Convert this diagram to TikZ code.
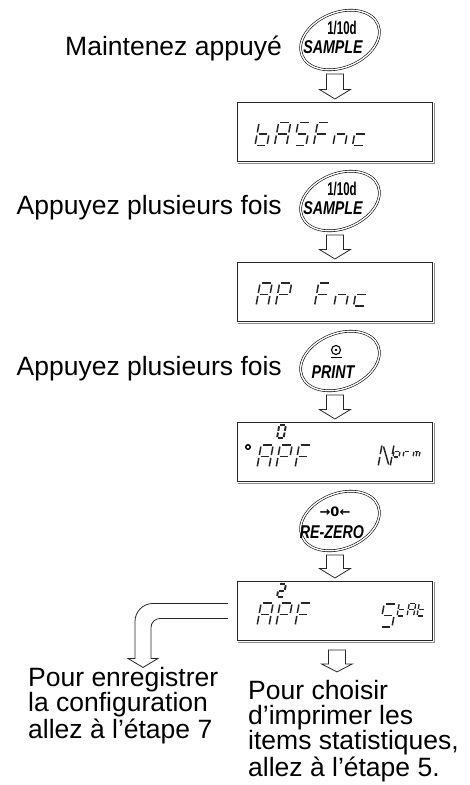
\documentclass[tikz,border=0pt]{standalone}
\usepackage{fontspec}
\setmainfont{Liberation Sans}
\newfontfamily\djv{DejaVu Sans}
\usetikzlibrary{shapes.geometric,calc}

% seven-segment pieces, local coordinates (origin bottom-left, y up)
\newcommand\dsega{\draw[seg] (1.6,23) -- (10.4,23);}
\newcommand\dsegb{\draw[seg] (12,21.4) -- (12,13);}
\newcommand\dsegc{\draw[seg] (12,10) -- (12,1.6);}
\newcommand\dsegd{\draw[seg] (1.6,0) -- (10.4,0);}
\newcommand\dsege{\draw[seg] (0,10) -- (0,1.6);}
\newcommand\dsegf{\draw[seg] (0,21.4) -- (0,13);}
\newcommand\dsegg{\draw[seg] (1.6,11.5) -- (10.4,11.5);}
\newcommand\dsegn{\draw[seg] (1.8,20.5) -- (10.2,2.5);}
\newcommand\dsegm{\draw[seg] (6,10) -- (6,1.6);}

\newcommand\glyph[5][]{%
  \begin{scope}[shift={(#2,#3)}, x={({#4*1pt},0pt)}, y={({0.18*#4*1pt},{#4*1pt})}, #1]
    \foreach \s in {#5} {\csname dseg\s\endcsname}
  \end{scope}}

\newcommand\blockarrow[2]{%
  \draw[blk] let \p1=(#2.north), \p2=(#1.center) in
    (\x1-8.5pt,\y2-34pt) -- (\x1-8.5pt,\y1+12.5pt) -- (\x1-15.5pt,\y1+12.5pt)
    -- (\x1,\y1+3pt) -- (\x1+15.5pt,\y1+12.5pt) -- (\x1+8.5pt,\y1+12.5pt)
    -- (\x1+8.5pt,\y2-34pt) -- cycle;}

\newcommand\dispshadow[1]{%
  \draw[black!45, line width=0.8pt]
    ([xshift=1pt,yshift=-1pt]#1.south west) -- ([xshift=1pt,yshift=-1pt]#1.south east)
    -- ([xshift=1pt,yshift=-1pt]#1.north east);}

\begin{document}
\begin{tikzpicture}[x=1pt,y=-1pt,
  lbl/.style={font=\fontsize{26.5}{24.3}\selectfont, inner sep=0pt},
  disp/.style={draw=black!85, line width=0.9pt, minimum width=195pt, minimum height=59pt, anchor=north west, inner sep=0pt},
  key/.style={ellipse, draw=black, double=white, double distance=1.4pt, line width=0.6pt, minimum width=82pt, minimum height=55pt, rotate=22, inner sep=0pt},
  blk/.style={draw=black!85, line width=0.8pt, fill=white, line join=miter},
  seg/.style={line width=1.5pt, black!85},
  ktop/.style={font=\bfseries\fontsize{18.5}{18.5}\selectfont, inner sep=0pt, anchor=base},
  kbot/.style={font=\bfseries\itshape\fontsize{18.5}{18.5}\selectfont, inner sep=0pt, anchor=base},
]
\useasboundingbox (0,0) rectangle (469,785);

% keys
\node[key] (k1) at (340,40) {};
\node[key] (k2) at (340,201) {};
\node[key] (k3) at (340,361) {};
\node[key] (k4) at (340,521) {};

\node[ktop] (k1a) at (342,34) {\scalebox{0.62}[1]{1/10d}};
\node[kbot] (k1b) at (333,53) {\scalebox{0.77}[1]{SAMPLE}};
\node[ktop] (k2a) at (342,195) {\scalebox{0.62}[1]{1/10d}};
\node[kbot] (k2b) at (333,214) {\scalebox{0.77}[1]{SAMPLE}};
\draw[line width=1.1pt] (336,350) circle[radius=4.5];
\fill (336,350) circle[radius=1.3];
\draw[line width=1.1pt] (330.5,357.5) -- (341.5,357.5);
\node[kbot] (k3b) at (333,378) {\scalebox{0.77}[1]{PRINT}};
\node[ktop, font=\djv\bfseries\fontsize{13}{13}\selectfont] (k4a) at (335,516) {→0←};
\node[kbot] (k4b) at (332,538) {\scalebox{0.77}[1]{RE-ZERO}};

% instructions
\node[lbl, anchor=base east] (t1) at (282,55) {Maintenez appuyé};
\node[lbl, anchor=base east] (t2) at (282,214) {Appuyez plusieurs fois};
\node[lbl, anchor=base east] (t3) at (282,375) {Appuyez plusieurs fois};

% displays
\node[disp] (d1) at (237,102) {};
\node[disp] (d2) at (237,262) {};
\node[disp] (d3) at (237,422) {};
\node[disp] (d4) at (237,581) {};
\dispshadow{d1}\dispshadow{d2}\dispshadow{d3}\dispshadow{d4}

% display 1: bASFnc
\glyph{255}{145.5}{1}{f,e,d,c,g}
\glyph{274.5}{145.5}{1}{a,b,c,e,f,g}
\glyph{294}{145.5}{1}{a,f,g,c,d}
\glyph{313.5}{145.5}{1}{a,f,e,g}
\glyph{333}{145.5}{1}{g,e,c}
\glyph{352.5}{145.5}{1}{g,e,d}
% display 2: AP Fnc
\glyph{256}{306}{1}{a,b,c,e,f,g}
\glyph{275.5}{306}{1}{a,b,e,f,g}
\glyph{314.5}{306}{1}{a,f,e,g}
\glyph{334}{306}{1}{g,e,c}
\glyph{353.5}{306}{1}{g,e,d}
% display 3: o APF  Norm
\draw[line width=1.4pt] (248,447) circle[radius=2.3];
\glyph[seg/.append style={line width=1.9pt}]{277}{438}{0.55}{a,b,c,d,e,f}
\glyph{257}{468}{1}{a,b,c,e,f,g}
\glyph{276}{468}{1}{a,b,e,f,g}
\glyph{295}{468}{1}{a,f,e,g}
\glyph{378}{467}{1}{e,f,b,c,n}
\glyph[seg/.append style={line width=1.3pt}]{393}{457}{0.5}{g,c,d,e}
\glyph[seg/.append style={line width=1.3pt}]{403}{457}{0.5}{e,g}
\glyph[seg/.append style={line width=1.3pt}]{413}{457}{0.5}{g,e,c,m}
% display 4: APF  Stat
\glyph[seg/.append style={line width=1.9pt}]{277}{597}{0.55}{a,b,g,e,d}
\glyph{257}{626}{1}{a,b,c,e,f,g}
\glyph{276}{626}{1}{a,b,e,f,g}
\glyph{295}{626}{1}{a,f,e,g}
\glyph{380}{627}{1}{a,f,g,c,d}
\glyph[seg/.append style={line width=1.3pt}]{397}{616}{0.55}{d,e,f,g}
\glyph[seg/.append style={line width=1.3pt}]{407}{616}{0.55}{a,b,c,e,f,g}
\glyph[seg/.append style={line width=1.3pt}]{417}{616}{0.55}{d,e,f,g}

% arrows
\blockarrow{k1}{d1}
\blockarrow{k2}{d2}
\blockarrow{k3}{d3}
\blockarrow{k4}{d4}
\draw[blk] let \p1=(d4.south) in
  (\x1-6.5pt,\y1-9pt) -- (\x1-6.5pt,\y1-23pt) -- (\x1-13.5pt,\y1-23pt)
  -- (\x1+2pt,\y1-31pt) -- (\x1+17.5pt,\y1-23pt) -- (\x1+10.5pt,\y1-23pt)
  -- (\x1+10.5pt,\y1-9pt) -- cycle;
\begin{scope}[shift={(d4.west)}]
  \draw[blk, fill=none] (-9,-7.5) -- (-84,-7.5) arc[start angle=270,end angle=180,radius=18]
    -- (-102,47.5) -- (-109,47.5) -- (-94,56.5) -- (-79,47.5) -- (-86,47.5)
    -- (-86,16.5) arc[start angle=180,end angle=270,radius=9] -- (-9,7.5);
\end{scope}

% outcomes (base anchor = last line)
\node[lbl, anchor=base west, align=left] (t4) at (28,738) {Pour enregistrer\\la configuration\\allez à l’étape 7};
\node[lbl, anchor=base west, align=left] (t5) at (248,776) {Pour choisir\\d’imprimer les\\items statistiques,\\allez à l’étape 5.};
\end{tikzpicture}
\end{document}
